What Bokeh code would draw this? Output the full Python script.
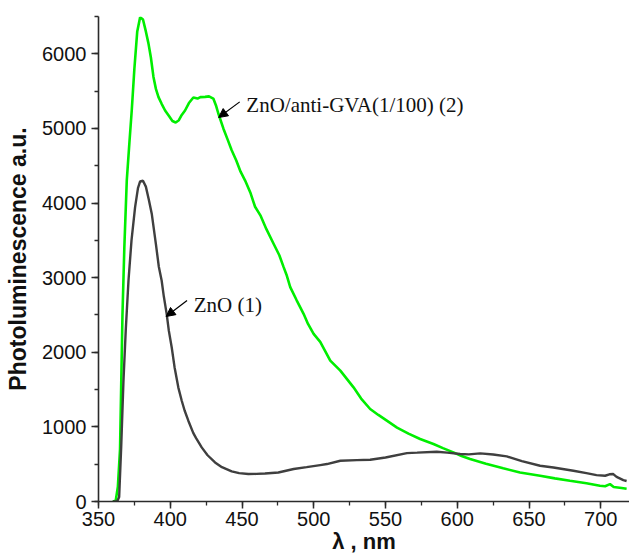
import math
from bokeh.plotting import figure
from bokeh.models import Range1d, SingleIntervalTicker, Label, Arrow, NormalHead
from bokeh.embed import file_html
from bokeh.resources import INLINE

# ---- data ----
wl_zno = [360, 363, 364.4, 365.8, 367.4, 369, 370.9, 373, 375.5, 377.5, 379, 381, 383, 385,
          387.1, 390, 392, 394, 395.5, 397.5, 399, 401, 403, 405.6, 408, 410, 412.6, 416,
          418, 421.9, 426, 431.2, 436, 442.8, 448, 454.4, 460, 466, 475.3, 486, 495, 504.5,
          509.2, 518.5, 530, 539.3, 550, 564.9, 572, 585.7, 593, 602, 608, 616, 625, 634.5,
          645, 657.7, 667, 680.9, 690, 697, 703, 706, 708.7, 711, 715.7, 718]
pl_zno = [0, 0, 60, 725, 1620, 2300, 2962, 3500, 3946, 4200, 4290, 4300, 4220, 4050,
          3857, 3450, 3150, 2962, 2750, 2515, 2290, 2067, 1800, 1530, 1350, 1220, 1083, 920,
          850, 725, 620, 523, 460, 403, 380, 368, 370, 375, 389, 435, 460, 488,
          502, 546, 555, 560, 590, 649, 655, 667, 655, 636, 632, 645, 630, 604,
          540, 479, 456, 412, 380, 354, 345, 365, 368, 330, 287, 275]

wl_gva = [360, 362, 363.5, 365, 366.7, 368, 369.7, 371.5, 373.2, 375, 377, 379, 381, 383,
          384.8, 386.5, 388.3, 390, 391.8, 394, 396.4, 399, 401.5, 403.8, 406, 408, 410.3,
          413, 416.1, 419, 421, 424.3, 427, 430, 432, 433.5, 437, 440, 442.8, 446, 449,
          452.1, 456, 459.1, 462.8, 467, 472, 476, 479, 481, 483.6, 488, 492.9, 496, 499.9,
          504.5, 511.5, 518.5, 527.7, 533, 539.3, 545, 550.9, 558, 566, 574.1, 583.4, 590,
          597.3, 603, 608.9, 620, 632, 643.7, 657.7, 668, 678.5, 690, 699.4, 703, 706.4,
          709, 714.5, 718]
pl_gva = [0, 10, 200, 700, 2500, 3400, 4300, 4800, 5250, 5800, 6300, 6490, 6460, 6300,
          6140, 5950, 5690, 5530, 5420, 5330, 5240, 5170, 5100, 5080, 5110, 5180, 5240,
          5340, 5415, 5400, 5420, 5423, 5430, 5400, 5300, 5200, 5000, 4850, 4707, 4570, 4420,
          4305, 4130, 3950, 3835, 3650, 3455, 3300, 3141, 3040, 2873, 2700, 2515, 2380, 2247,
          2140, 1889, 1754, 1530, 1380, 1240, 1160, 1083, 990, 910, 837, 770, 715,
          658, 610, 569, 505, 445, 389, 345, 310, 278, 245, 211, 205, 233,
          195, 180, 170]

x_ticks_interval = 50
y_ticks_interval = 1000
label_gva = "ZnO/anti-GVA(1/100) (2)"
label_zno = "ZnO (1)"
y_title = "Photoluminescence a.u."
x_title = "\u03bb , nm"

p = figure(width=629, height=557, output_backend="svg", toolbar_location=None,
           x_range=Range1d(350, 720), y_range=Range1d(0, 6500),
           min_border_left=98, min_border_right=0, min_border_top=16, min_border_bottom=56)
p.outline_line_color = None
p.xgrid.visible = False
p.ygrid.visible = False
p.background_fill_color = "white"
p.border_fill_color = "white"

p.line(wl_gva, pl_gva, line_color="#00ee00", line_width=2.6)
p.line(wl_zno, pl_zno, line_color="#3f3f3f", line_width=2.4)

for ax, iv in ((p.xaxis[0], x_ticks_interval), (p.yaxis[0], y_ticks_interval)):
    ax.ticker = SingleIntervalTicker(interval=iv, num_minor_ticks=2)
    ax.axis_line_color = "#2b2b2b"
    ax.axis_line_width = 1.6
    ax.major_tick_line_color = "#2b2b2b"
    ax.major_tick_line_width = 1.5
    ax.minor_tick_line_color = "#2b2b2b"
    ax.minor_tick_line_width = 1.3
    ax.major_tick_in = 0
    ax.major_tick_out = 7
    ax.minor_tick_in = 0
    ax.minor_tick_out = 4
    ax.major_label_text_font = "Liberation Sans"
    ax.major_label_text_font_size = "20px"
    ax.major_label_text_color = "#111111"
    ax.axis_label_text_font = "Liberation Sans"
    ax.axis_label_text_font_style = "bold"
    ax.axis_label_text_color = "#111111"
p.xaxis.major_label_standoff = 3
p.yaxis.major_label_standoff = 5
p.yaxis.axis_label = y_title
p.yaxis.axis_label_text_font_size = "23px"
p.yaxis.axis_label_standoff = 8
p.xaxis.axis_label = x_title
p.xaxis.axis_label_text_font_size = "22px"
p.xaxis.axis_label_standoff = 0

# curve annotations
p.add_layout(Label(x=453, y=5311, text=label_gva, text_align="left",
                   text_baseline="alphabetic", text_font="Liberation Serif",
                   text_font_size="21px", text_color="#111111"))
p.add_layout(Label(x=416.3, y=2640, text=label_zno, text_align="left",
                   text_baseline="alphabetic", text_font="Liberation Serif",
                   text_font_size="21px", text_color="#111111"))
p.add_layout(Arrow(end=NormalHead(size=9, fill_color="black", line_color="black", line_width=1),
                   x_start=448.4, y_start=5356, x_end=433.7, y_end=5146,
                   line_color="black", line_width=1.2))
p.add_layout(Arrow(end=NormalHead(size=9, fill_color="black", line_color="black", line_width=1),
                   x_start=411.7, y_start=2694, x_end=397.1, y_end=2479,
                   line_color="black", line_width=1.2))

open("out.html", "w").write(file_html(p, INLINE))
